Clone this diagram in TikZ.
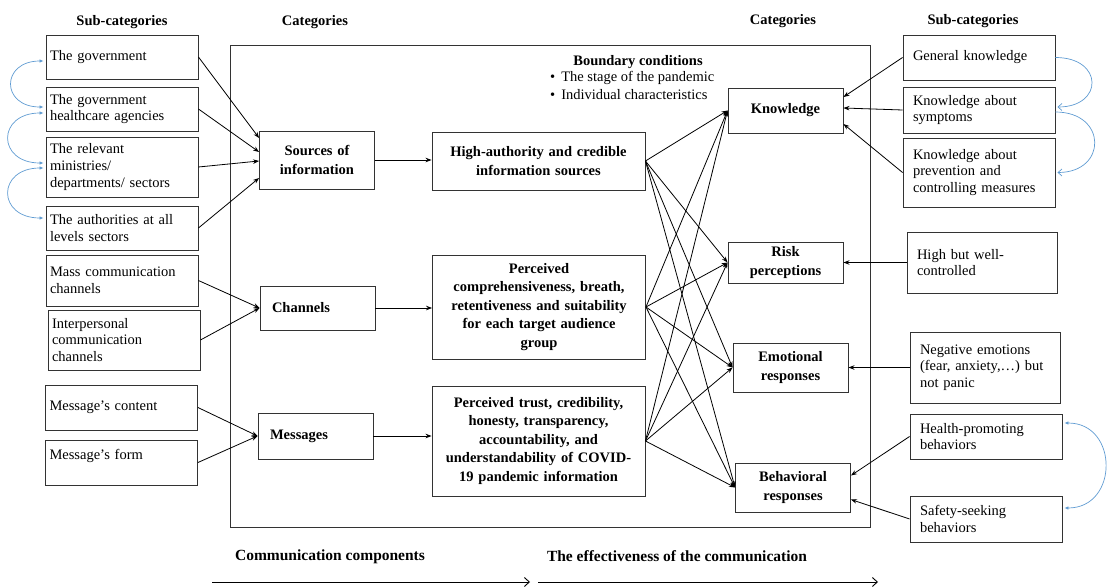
\documentclass[tikz,border=0pt]{standalone}
\usepackage{fontspec}
\setmainfont{Liberation Serif}
\usetikzlibrary{arrows.meta}
\definecolor{linkblue}{RGB}{95,155,210}

\begin{document}
\fontsize{14.5}{16.7}\selectfont
\begin{tikzpicture}[x=1pt, y=-1pt,
        sub/.style={draw=black!80, line width=0.9pt, align=left, inner xsep=4pt, inner ysep=0pt, text width=144pt},
        rsub/.style={sub, inner xsep=10pt, text width=132pt},
        cat/.style={draw=black!80, line width=0.9pt, font=\bfseries\fontsize{14.5}{19}\selectfont, align=center, inner xsep=6pt, inner ysep=0pt, text width=103pt},
        lcat/.style={cat, align=left, inner xsep=12pt, text width=91pt},
        mid/.style={draw=black!80, line width=0.9pt, font=\bfseries\fontsize{14.5}{18.5}\selectfont, align=center, inner xsep=4pt, inner ysep=0pt, text width=205pt},
        head/.style={font=\bfseries},
        arr/.style={line width=0.8pt, -{Stealth[length=6pt,width=4.5pt]}},
        twoway/.style={draw=linkblue, line width=0.7pt, {Latex[length=4pt,width=3.5pt]}-{Latex[length=4pt,width=3.5pt]}, shorten <=2pt, shorten >=2pt},
        oneway/.style={draw=linkblue, line width=0.7pt, -{Straight Barb[length=4pt,width=7pt]}, shorten >=2pt}
    ]
        \useasboundingbox (0,0) rectangle (1107,588);

        % Headers
        \node[head] (lsubh) at (122,22) {Sub-categories};
        \node[head] (lcath) at (315,22) {Categories};
        \node[head] (rcath) at (783,21) {Categories};
        \node[head] (rsubh) at (973,21) {Sub-categories};

        % Frame
        \draw[draw=black!80, line width=0.9pt] (230,45) rectangle (870,527);

        % Left sub-categories
        \node[sub, minimum height=44pt] (gov) at (122,57) {The government};
        \node[sub, minimum height=44pt] (hca) at (122,109) {The government\\ healthcare agencies};
        \node[sub, minimum height=60pt] (rel) at (122,167) {The relevant\\ ministries/\\ departments/ sectors};
        \node[sub, minimum height=44pt] (auth) at (122,228) {The authorities at all\\ levels sectors};
        \node[sub, minimum height=51pt] (mass) at (122,280.5) {Mass communication\\ channels};
        \node[sub, minimum height=60pt] (inter) at (124,340) {Interpersonal\\ communication\\ channels};
        \node[sub, minimum height=45pt] (cont) at (121.5,407.5) {Message's content};
        \node[sub, minimum height=45pt] (form) at (121.5,462.5) {Message's form\\ ~};

        % Categories
        \node[cat, minimum height=58pt] (src) at (317,160) {Sources of\\ information};
        \node[lcat, minimum height=44pt] (chan) at (317.5,308) {Channels};
        \node[lcat, minimum height=46pt] (msg) at (315.5,436) {Messages};

        % Middle
        \node[mid, minimum height=58pt] (high) at (538.5,161) {High-authority and credible\\ information sources};
        \node[mid, minimum height=104pt] (comp) at (539,307) {Perceived\\ comprehensiveness, breath,\\ retentiveness and suitability\\ for each target audience\\ group};
        \node[mid, minimum height=110pt] (trust) at (538.5,441) {Perceived trust, credibility,\\ honesty, transparency,\\ accountability, and\\ understandability of COVID-\\ 19 pandemic information};

        \node[head] (bc) at (638,62) {Boundary conditions};
        \node[anchor=north west, align=left, inner sep=0pt] (bcl) at (550,71) {\textbullet\hspace{6pt}The stage of the pandemic\\[1pt] \textbullet\hspace{6pt}Individual characteristics};

        % Right categories
        \node[cat, minimum height=45pt] (know) at (785.5,110.5) {Knowledge};
        \node[cat, minimum height=41pt] (risk) at (785.5,262.5) {Risk\\ perceptions};
        \node[cat, minimum height=49pt] (emo) at (790.5,367.5) {Emotional\\ responses};
        \node[cat, minimum height=49pt] (beh) at (793,487.5) {Behavioral\\ responses};

        % Right sub-categories
        \node[rsub, minimum height=45pt] (gk) at (979,57.5) {General knowledge};
        \node[rsub, minimum height=46pt] (symp) at (979,110) {Knowledge about\\ symptoms};
        \node[rsub, minimum height=69pt] (prev) at (979,172.5) {Knowledge about\\ prevention and\\ controlling measures};
        \node[rsub, text width=130pt, minimum height=61pt] (well) at (982,262.5) {High but well-\\ controlled};
        \node[rsub, text width=130pt, minimum height=71pt] (neg) at (985,367.5) {Negative emotions\\ (fear, anxiety,\ldots) but\\ not panic};
        \node[rsub, minimum height=45pt] (hp) at (986,436.5) {Health-promoting\\ behaviors};
        \node[rsub, minimum height=46pt] (safe) at (986,519) {Safety-seeking\\ behaviors};

        % Arrows into categories
        \draw[arr] (gov.east) -- ([yshift=22pt]src.west);
        \draw[arr] (hca.east) -- ([yshift=8pt]src.west);
        \draw[arr] (rel.east) -- ([yshift=-1pt]src.west);
        \draw[arr] (auth.east) -- ([yshift=-18pt]src.west);
        \draw[arr] (mass.east) -- (chan.west);
        \draw[arr] (inter.east) -- (chan.west);
        \draw[arr] (cont.east) -- (msg.west);
        \draw[arr] (form.east) -- (msg.west);

        \draw[arr] (src.east) -- (src.east -| high.west);
        \draw[arr] (chan.east) -- (chan.east -| comp.west);
        \draw[arr] (msg.east) -- (msg.east -| trust.west);

        \foreach \a in {high, comp, trust} {
            \foreach \b in {know, risk, emo, beh} {
                \draw[arr] (\a.east) -- (\b.west);
            }
        }

        \draw[arr] (gk.west) -- ([yshift=13.5pt]know.east);
        \draw[arr] (symp.west) -- ([yshift=2.5pt]know.east);
        \draw[arr] (prev.west) -- ([yshift=-13.5pt]know.east);
        \draw[arr] (well.west) -- (risk.east);
        \draw[arr] (neg.west) -- (emo.east);
        \draw[arr] (hp.west) -- ([yshift=12pt]beh.east);
        \draw[arr] (safe.west) -- ([yshift=-12pt]beh.east);

        % Blue links
        \draw[twoway] ([yshift=-4pt]gov.west) to[out=180, in=180, looseness=2.5] ([yshift=2pt]hca.west);
        \draw[twoway] ([yshift=-4pt]hca.west) to[out=180, in=180, looseness=2.5] ([yshift=4pt]rel.west);
        \draw[twoway] ([yshift=-1pt]rel.west) to[out=180, in=180, looseness=2.5] ([yshift=10pt]auth.west);
        \draw[oneway] (gk.east) to[out=0, in=0, looseness=2.5] ([yshift=3pt]symp.east);
        \draw[oneway] ([yshift=-2pt]symp.east) to[out=0, in=0, looseness=2.2] (prev.east);
        \draw[twoway] ([yshift=13.5pt]hp.east) to[out=0, in=0, looseness=1.7] ([yshift=11pt]safe.east);

        % Bottom
        \node[head, font=\bfseries\fontsize{15.5}{18}\selectfont] (compt) at (330,557) {Communication components};
        \node[head, font=\bfseries\fontsize{15.5}{18}\selectfont] (efft) at (677,556) {The effectiveness of the communication};
        \coordinate (ca) at (212,582);
        \coordinate (cb) at (530,582);
        \coordinate (ea) at (538,582);
        \coordinate (eb) at (878,582);
        \draw[line width=0.9pt, -{Straight Barb[length=5pt,width=9pt]}] (ca) -- (cb);
        \draw[line width=0.9pt, -{Straight Barb[length=5pt,width=9pt]}] (ea) -- (eb);
    \end{tikzpicture}
\end{document}
